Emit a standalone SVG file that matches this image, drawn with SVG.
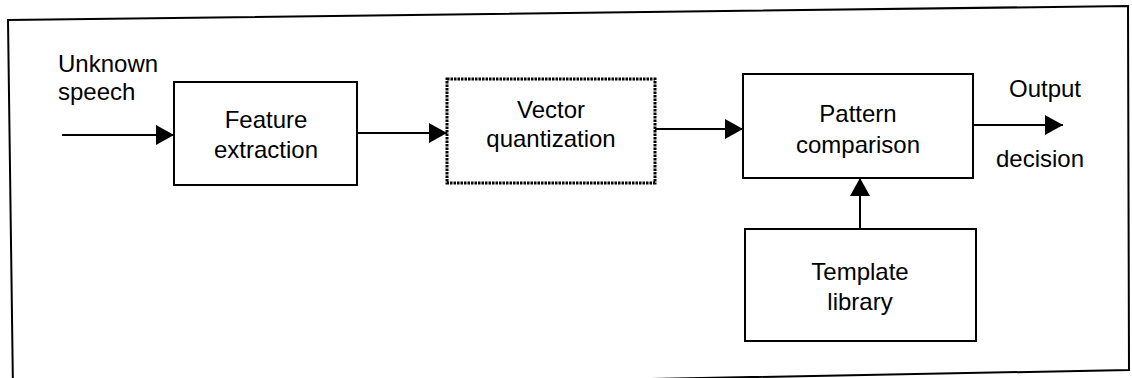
<svg xmlns="http://www.w3.org/2000/svg" width="1132" height="378" viewBox="0 0 1132 378">
<style>
.box{fill:#fff;stroke:#000;stroke-width:2}
.dot{fill:#fff;stroke:#000;stroke-width:3;stroke-dasharray:2.5 1}
.ln{stroke:#000;stroke-width:2;fill:none}
text{font-family:"Liberation Sans",Arial,sans-serif;font-size:24px;fill:#000;text-anchor:middle}
.l{text-anchor:start}
</style>
<defs>
<marker id="ah" markerWidth="18" markerHeight="20" refX="18" refY="10" orient="auto" markerUnits="userSpaceOnUse">
<path d="M0,0 L18,10 L0,20 Z" fill="#000"/>
</marker>
</defs>
<rect width="1132" height="378" fill="#fff"/>
<polygon id="frame" points="8,20 1128,6 1129,370 13,391" fill="none" stroke="#000" stroke-width="2"/>
<g id="connectors">
<line class="ln" x1="62" y1="135" x2="174" y2="135" marker-end="url(#ah)"/>
<line class="ln" x1="357" y1="133" x2="447" y2="133" marker-end="url(#ah)"/>
<line class="ln" x1="655" y1="129" x2="743" y2="129" marker-end="url(#ah)"/>
<line class="ln" x1="973" y1="125" x2="1063" y2="125" marker-end="url(#ah)"/>
<line class="ln" x1="860" y1="229" x2="860" y2="178" marker-end="url(#ah)"/>
</g>
<g id="input-label">
<text class="l" x="58" y="72">Unknown</text>
<text class="l" x="58" y="100">speech</text>
</g>
<g id="feature-extraction">
<rect class="box" x="174" y="82" width="183" height="103"/>
<text x="266" y="128">Feature</text>
<text x="266" y="158">extraction</text>
</g>
<g id="vector-quantization">
<rect class="dot" x="447" y="79" width="208" height="104"/>
<text x="551" y="118">Vector</text>
<text x="551" y="147">quantization</text>
</g>
<g id="pattern-comparison">
<rect class="box" x="743" y="74" width="230" height="104"/>
<text x="858" y="122">Pattern</text>
<text x="858" y="153">comparison</text>
</g>
<g id="template-library">
<rect class="box" x="745" y="229" width="231" height="112"/>
<text x="860" y="280">Template</text>
<text x="860" y="310">library</text>
</g>
<g id="output-label">
<text x="1045" y="97">Output</text>
<text x="1040" y="167">decision</text>
</g>
</svg>
